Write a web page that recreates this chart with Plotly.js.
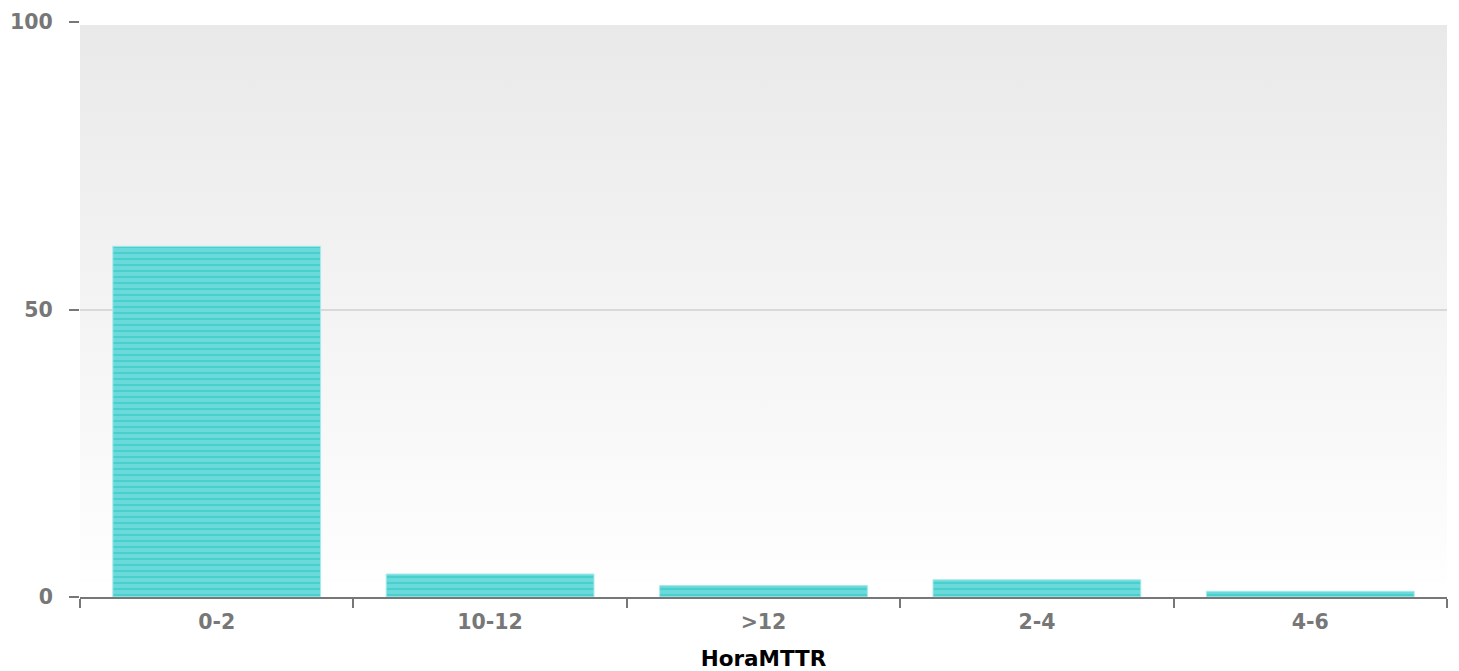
<!DOCTYPE html>
<html>
<head>
<meta charset="utf-8">
<script src="https://cdn.plot.ly/plotly-3.0.1.min.js"></script>
<style>html,body{margin:0;padding:0;background:#fff;}#chart{width:1459px;height:671px;}</style>
</head>
<body>
<div id="chart"></div>
<script>
const categories = ["0-2", "10-12", ">12", "2-4", "4-6"];
const values = [61, 4, 2, 3, 1];
const yTicks = [0, 50, 100];
const xTitle = "HoraMTTR";

const gradSvg = '<svg xmlns="http://www.w3.org/2000/svg" width="10" height="100" preserveAspectRatio="none">' +
  '<defs><linearGradient id="g" x1="0" y1="0" x2="0" y2="1">' +
  '<stop offset="0" stop-color="#e9e9e9"/><stop offset="1" stop-color="#fefefe"/></linearGradient></defs>' +
  '<rect x="0" y="0" width="10" height="100" fill="url(#g)"/></svg>';
const gradUri = 'data:image/svg+xml;base64,' + btoa(gradSvg);

const trace = {
  type: 'bar',
  x: categories,
  y: values,
  marker: {
    color: '#6ad9d9',
    line: {color: '#a8eaea', width: 1},
    pattern: {shape: '-', fgcolor: '#4acfcf', bgcolor: '#6cdada', size: 6, solidity: 0.35, fillmode: 'replace'}
  },
  hoverinfo: 'x+y'
};

const layout = {
  width: 1459, height: 671,
  margin: {l: 80, r: 12, t: 22, b: 74},
  paper_bgcolor: '#ffffff',
  plot_bgcolor: 'rgba(0,0,0,0)',
  bargap: 0.24,
  showlegend: false,
  font: {family: 'DejaVu Sans', color: '#777777'},
  images: [{
    source: gradUri, xref: 'paper', yref: 'paper', x: 0, y: 0.995, sizex: 1, sizey: 0.97,
    xanchor: 'left', yanchor: 'top', sizing: 'stretch', layer: 'below'
  }],
  xaxis: {
    type: 'category', automargin: false,
    showline: true, linecolor: '#777777', linewidth: 2,
    ticks: 'outside', tickson: 'boundaries', ticklen: 9, tickwidth: 2, tickcolor: '#777777',
    tickfont: {family: 'DejaVu Sans', size: 20.5, color: '#777777', weight: 'bold'},
    ticklabelstandoff: 5,
    showgrid: false,
    title: {text: '<b>' + xTitle + '</b>', font: {family: 'DejaVu Sans', size: 21.5, color: '#000000'}, standoff: 19}
  },
  yaxis: {
    range: [0, 100], tickvals: yTicks, automargin: false,
    showline: false, zeroline: false,
    ticks: 'outside', ticklen: 10, tickwidth: 2, tickcolor: '#777777',
    showgrid: true, gridcolor: '#d9d9d9', gridwidth: 2,
    tickfont: {family: 'DejaVu Sans', size: 20.5, color: '#777777', weight: 'bold'},
    ticklabelstandoff: 12
  }
};

Plotly.newPlot('chart', [trace], layout, {displayModeBar: false, staticPlot: true});
</script>
</body>
</html>
